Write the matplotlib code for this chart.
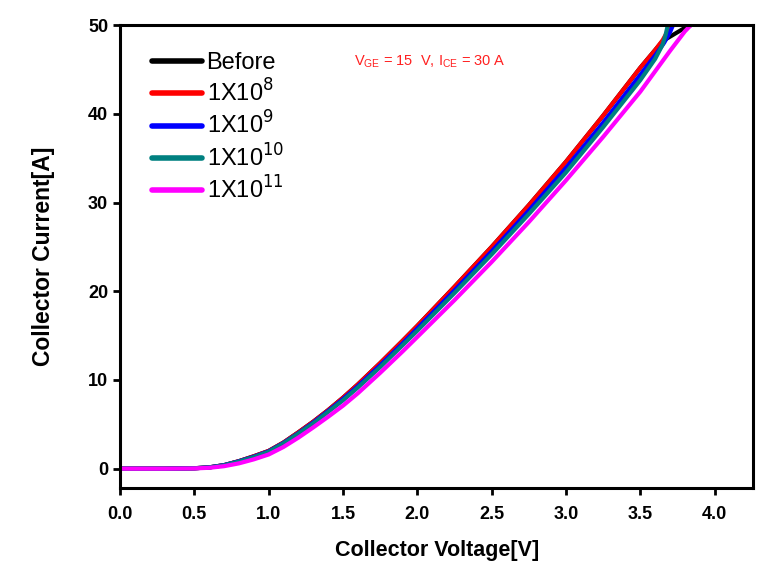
import matplotlib
matplotlib.use('Agg')
import matplotlib.pyplot as plt

plt.rcParams['font.family'] = ['Liberation Sans', 'DejaVu Sans']

# collector voltage [V] / collector current [A]
v_before = [0.0, 0.3, 0.5, 0.6, 0.7, 0.8, 0.9, 1.0, 1.1, 1.2, 1.3, 1.4, 1.5, 1.6, 1.75, 1.9, 2.0, 2.25, 2.5, 2.75, 3.0, 3.25, 3.5, 3.6, 3.65, 3.70, 3.75, 3.80, 3.84]
i_before = [0.0, 0.0, 0.05, 0.15, 0.4, 0.85, 1.4, 2.0, 2.95, 4.1, 5.3, 6.6, 8.0, 9.5, 11.9, 14.4, 16.1, 20.5, 25.0, 29.7, 34.6, 39.8, 45.2, 47.2, 48.2, 48.7, 49.2, 49.7, 50.0]

v_1e8 = [0.0, 0.3, 0.5, 0.6, 0.7, 0.8, 0.9, 1.0, 1.1, 1.2, 1.3, 1.4, 1.5, 1.6, 1.75, 1.9, 2.0, 2.25, 2.5, 2.75, 3.0, 3.25, 3.5, 3.6, 3.65, 3.68, 3.70]
i_1e8 = [0.0, 0.0, 0.05, 0.15, 0.4, 0.85, 1.4, 2.0, 2.95, 4.1, 5.3, 6.6, 8.0, 9.5, 11.9, 14.4, 16.1, 20.5, 25.0, 29.7, 34.6, 39.8, 45.2, 47.2, 48.3, 49.2, 50.0]

v_1e9 = [0.0, 0.3, 0.5, 0.6, 0.7, 0.8, 0.9, 1.0, 1.1, 1.2, 1.3, 1.4, 1.5, 1.6, 1.75, 1.9, 2.0, 2.25, 2.5, 2.75, 3.0, 3.25, 3.5, 3.6, 3.66, 3.70, 3.72]
i_1e9 = [0.0, 0.0, 0.05, 0.15, 0.4, 0.83, 1.35, 1.95, 2.9, 4.0, 5.2, 6.5, 7.85, 9.3, 11.65, 14.1, 15.8, 20.1, 24.5, 29.1, 33.9, 39.0, 44.4, 46.6, 48.0, 49.2, 50.0]

v_1e10 = [0.0, 0.3, 0.5, 0.6, 0.7, 0.8, 0.9, 1.0, 1.1, 1.2, 1.3, 1.4, 1.5, 1.6, 1.75, 1.9, 2.0, 2.25, 2.5, 2.75, 3.0, 3.25, 3.5, 3.6, 3.65, 3.67, 3.685]
i_1e10 = [0.0, 0.0, 0.05, 0.14, 0.38, 0.8, 1.3, 1.9, 2.85, 3.95, 5.1, 6.4, 7.7, 9.15, 11.45, 13.9, 15.55, 19.8, 24.15, 28.7, 33.4, 38.5, 43.8, 46.2, 47.8, 48.9, 50.0]

v_1e11 = [0.0, 0.3, 0.5, 0.6, 0.7, 0.8, 0.9, 1.0, 1.1, 1.2, 1.3, 1.4, 1.5, 1.6, 1.75, 1.9, 2.0, 2.25, 2.5, 2.75, 3.0, 3.25, 3.5, 3.6, 3.7, 3.8, 3.84]
i_1e11 = [0.0, 0.0, 0.03, 0.1, 0.28, 0.6, 1.05, 1.6, 2.45, 3.5, 4.65, 5.85, 7.1, 8.5, 10.8, 13.2, 14.85, 19.0, 23.3, 27.8, 32.5, 37.4, 42.5, 44.8, 47.1, 49.3, 50.0]

labels = ['Before', '1X10$^{8}$', '1X10$^{9}$', '1X10$^{10}$', '1X10$^{11}$']
colors = ['black', '#ff0000', '#0000ff', '#008080', '#ff00ff']
series = [(v_before, i_before), (v_1e8, i_1e8), (v_1e9, i_1e9), (v_1e10, i_1e10), (v_1e11, i_1e11)]

fig = plt.figure(figsize=(7.79, 5.71), dpi=100)
ax = fig.add_axes([0.154, 0.145, 0.813, 0.811])

for (v, i), c, lab in zip(series, colors, labels):
    ax.plot(v, i, color=c, lw=3.0, label=lab, solid_capstyle='round', solid_joinstyle='round')

ax.set_xlim(0, 4.26)
ax.set_ylim(-2.2, 50)
ax.set_xticks([0.0, 0.5, 1.0, 1.5, 2.0, 2.5, 3.0, 3.5, 4.0])
ax.set_yticks([0, 10, 20, 30, 40, 50])
ax.xaxis.set_major_formatter(matplotlib.ticker.FormatStrFormatter('%.1f'))

for s in ax.spines.values():
    s.set_linewidth(2.2)
ax.tick_params(direction='out', length=5, width=2, labelsize=13, top=False, right=False)
ax.tick_params(axis='x', pad=8)
for t in ax.get_xticklabels() + ax.get_yticklabels():
    t.set_fontweight('bold')

ax.set_xlabel('Collector Voltage[V]', fontsize=15.5, fontweight='bold', labelpad=12)
ax.set_ylabel('Collector Current[A]', fontsize=16.5, fontweight='bold', labelpad=24)

leg = ax.legend(loc='upper left', bbox_to_anchor=(0.036, 0.962), frameon=False, fontsize=17,
                handlelength=2.1, handletextpad=0.2, labelspacing=0.22, borderaxespad=0)
for h in leg.get_lines():
    h.set_linewidth(4)

ax.text(0.37, 0.922, 'V$_\\mathregular{GE}$ = 15  V, I$_\\mathregular{CE}$ = 30 A', transform=ax.transAxes,
        color='#ff2020', fontsize=10.5, va='center')

plt.savefig('out.png', dpi=100)
